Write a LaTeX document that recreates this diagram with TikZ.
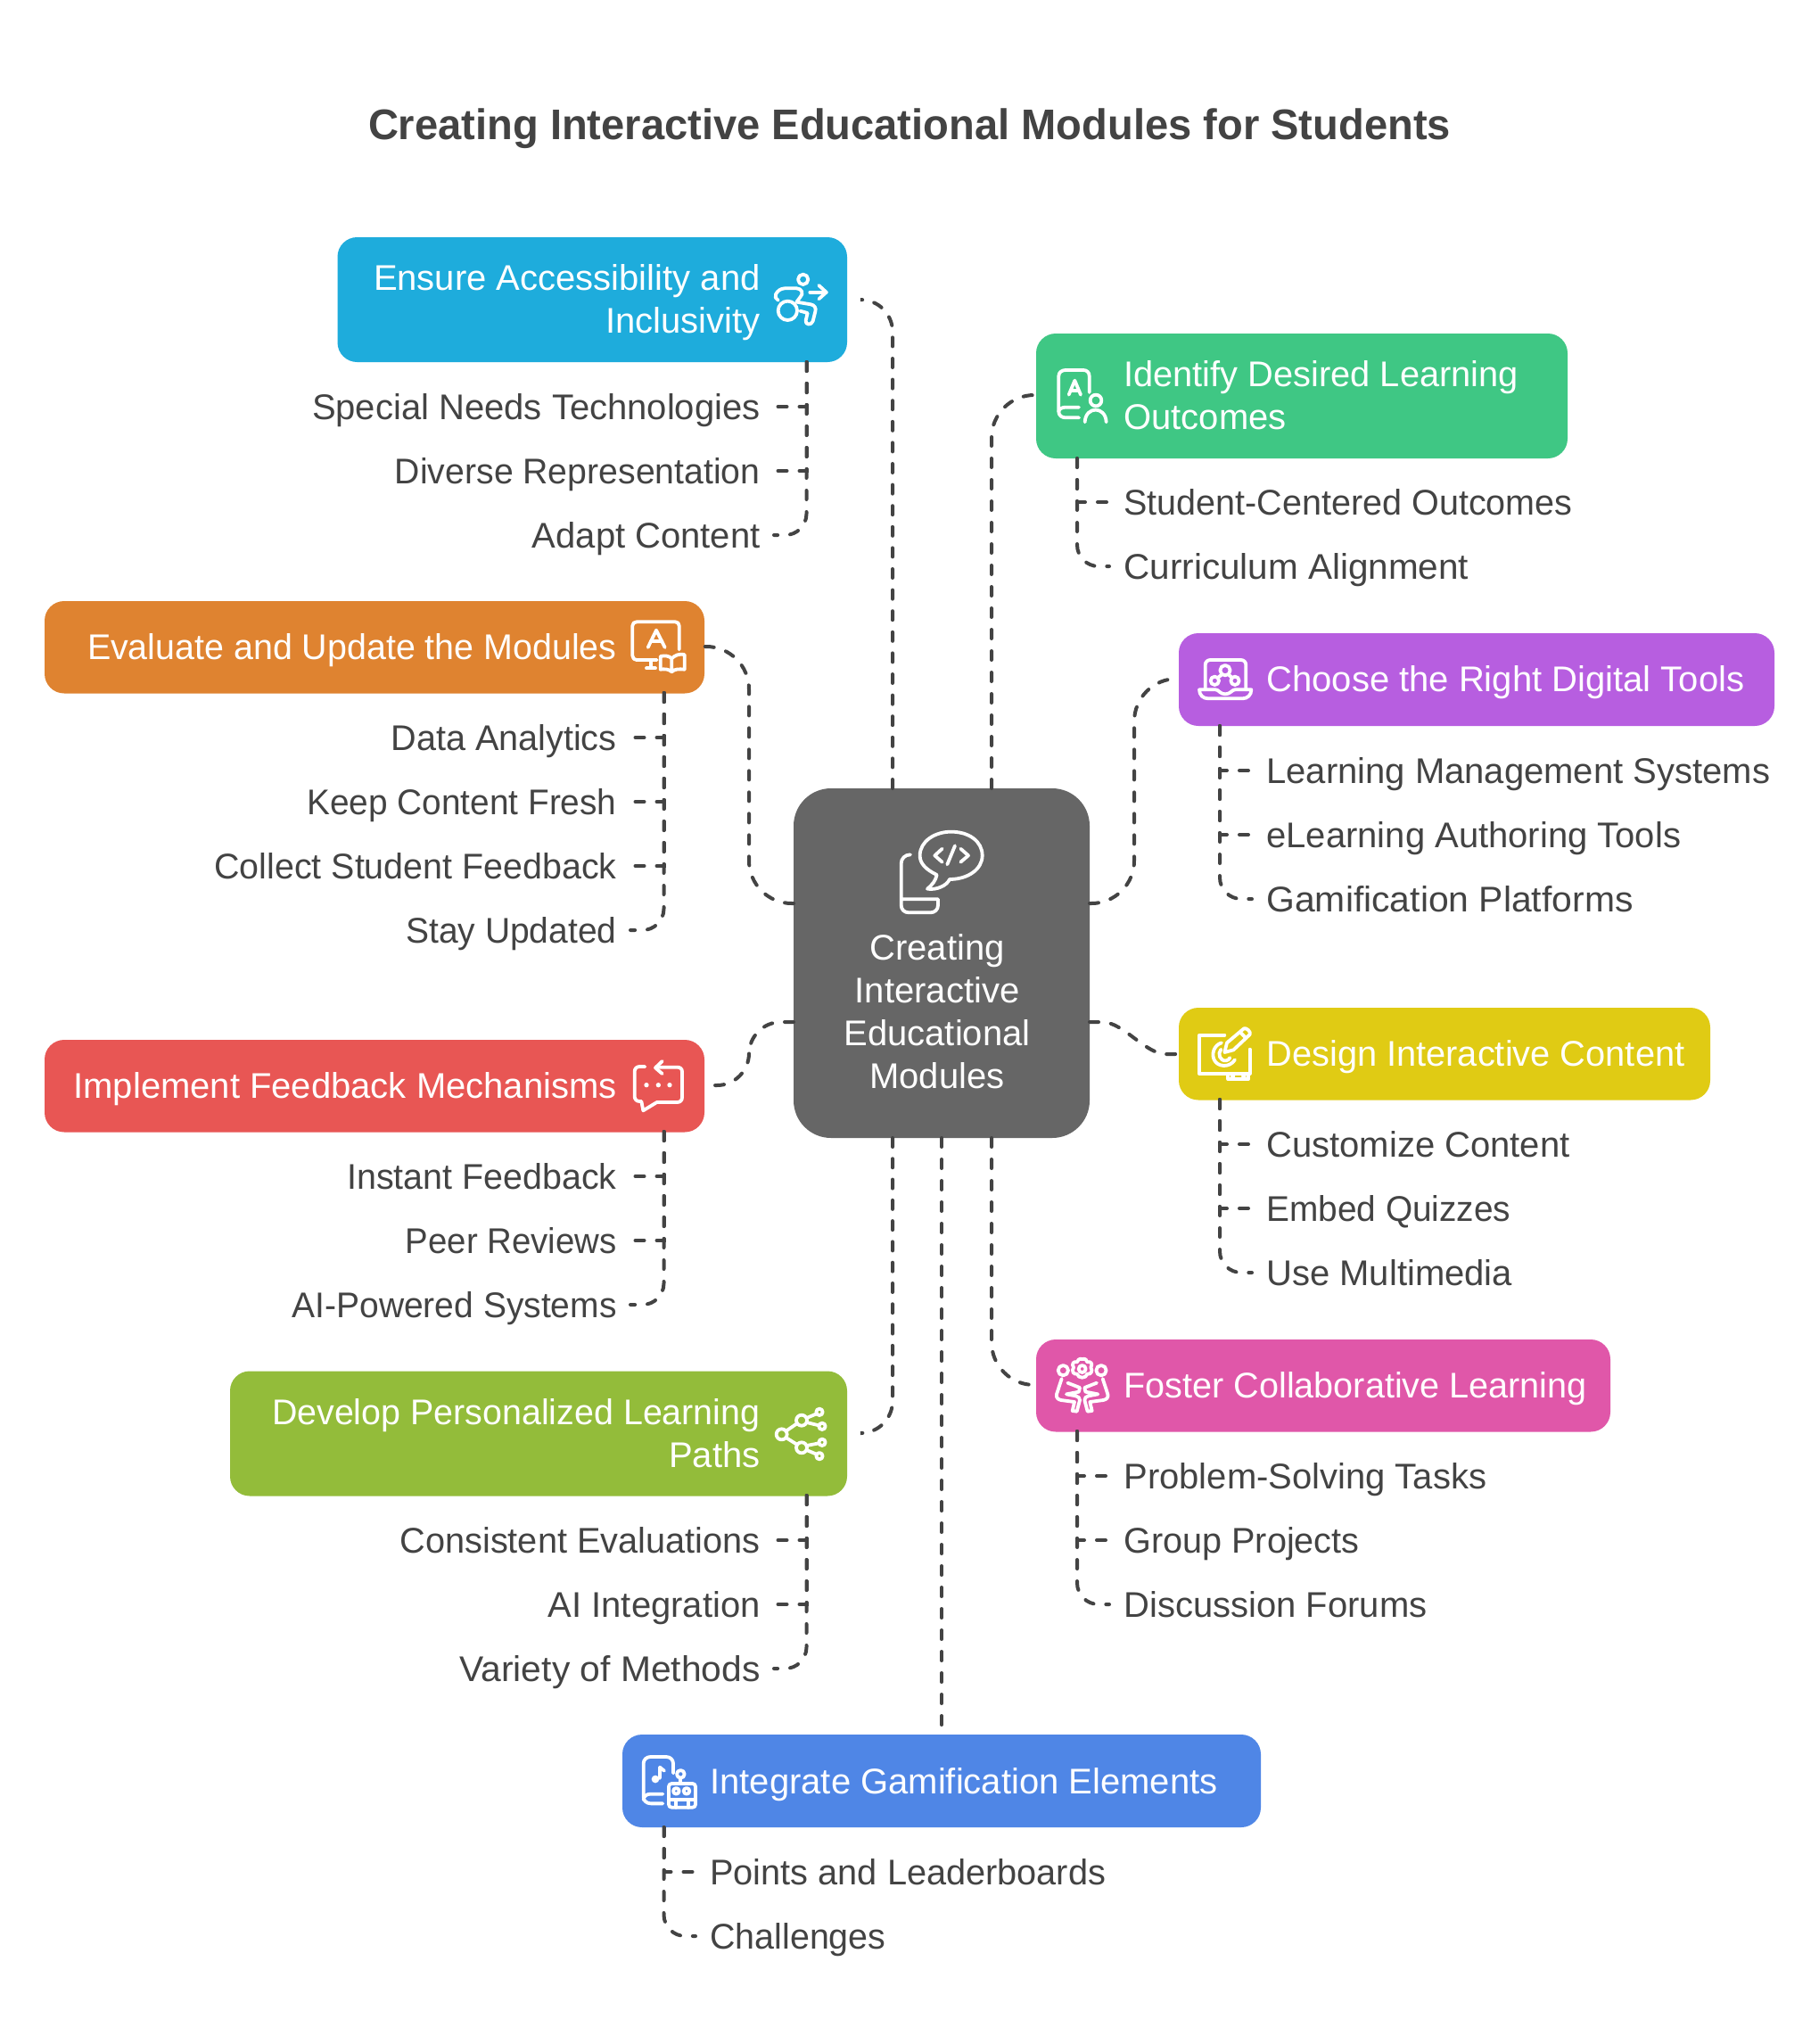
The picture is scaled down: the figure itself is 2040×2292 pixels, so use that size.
\documentclass[tikz,border=0pt]{standalone}
\usepackage{fontspec}
\setmainfont{Liberation Sans}
\newcommand{\sx}[2]{{\addfontfeature{FakeStretch=#1}#2}}
\definecolor{ink}{HTML}{434343}
\definecolor{cEns}{HTML}{1EACDC}
\definecolor{cIde}{HTML}{3FC784}
\definecolor{cCho}{HTML}{B75EE0}
\definecolor{cEva}{HTML}{DF8330}
\definecolor{cCtr}{HTML}{666666}
\definecolor{cDes}{HTML}{E0CB14}
\definecolor{cImp}{HTML}{E85654}
\definecolor{cFos}{HTML}{E057A9}
\definecolor{cDev}{HTML}{93BC3A}
\definecolor{cInt}{HTML}{4F86E6}
\tikzset{
  panel/.style={rounded corners=11pt,inner sep=0pt,draw=none},
  conn/.style={draw=ink,line width=2pt,line cap=round,dash pattern=on 5pt off 7pt},
  icn/.style={draw=white,line width=1.9pt,line cap=round,line join=round},
  icf/.style={fill=white,draw=none},
  txt/.style={font=\fontsize{20}{24}\selectfont,inner ysep=0pt,inner xsep=0pt},
  leafbase/.style={txt,text=ink,text height=14.3pt,text depth=0pt},
  leafR/.style={leafbase,inner xsep=7.5pt,anchor=east},
  leafL/.style={leafbase,inner xsep=8pt,anchor=west},
  oneR/.style={txt,text=white,text height=14.3pt,text depth=0pt,anchor=east},
  oneL/.style={txt,text=white,text height=14.3pt,text depth=0pt,anchor=west},
  twoR/.style={txt,text=white,align=right,anchor=base east},
  twoL/.style={txt,text=white,align=left,anchor=base west},
  twoC/.style={txt,text=white,align=center,anchor=base},
}
\newcommand{\panelbox}[6]{\node[panel,fill=#6,minimum width={(#4-#2)*0.5},minimum height={(#5-#3)*0.5}] (#1) at ({(#2+#4)/2},{(#3+#5)/2}) {};}
\begin{document}
\begin{tikzpicture}[x=0.5pt,y=-0.5pt]
\useasboundingbox (0,0) rectangle (2040,2292);
\fill[white] (0,0) rectangle (2040,2292);

\node[font=\fontsize{24}{28}\selectfont\bfseries,text=ink,inner sep=0pt,text height=17.2pt,text depth=0pt] (title) at (1020,139) {\addfontfeature{FakeStretch=0.981}Creating Interactive Educational Modules for Students};

% panels
\node[panel,rounded corners=21pt,fill=cCtr,minimum width=166pt,minimum height=196pt] (ctr) at (1056,1080) {};
\panelbox{ens}{378.5}{266}{950}{406}{cEns}
\panelbox{ide}{1162}{374}{1758}{514}{cIde}
\panelbox{cho}{1322}{710}{1990}{814}{cCho}
\panelbox{eva}{50}{674}{790}{777.5}{cEva}
\panelbox{des}{1322}{1130}{1918}{1233.5}{cDes}
\panelbox{imp}{50}{1166}{790}{1269.5}{cImp}
\panelbox{fos}{1162}{1502}{1806}{1605.5}{cFos}
\panelbox{dev}{258}{1537.5}{950}{1677.5}{cDev}
\panelbox{int}{698}{1945}{1414}{2049}{cInt}

% panel labels
\node[twoC] (ctrt) at (1051,1220) {Creating\\Interactive\\Educational\\Modules};
\node[twoR] (enst) at (853,373.5) {Ensure Accessibility and\\Inclusivity};
\node[twoL] (idet) at (1260,481.5) {\sx{0.995}{Identify Desired Learning}\\Outcomes};
\node[oneL] (chot) at (1420,761) {Choose the Right Digital Tools};
\node[oneR] (evat) at (692,725) {\sx{0.985}{Evaluate and Update the Modules}};
\node[oneL] (dest) at (1420,1181) {\sx{0.995}{Design Interactive Content}};
\node[oneR] (impt) at (692,1217) {Implement Feedback Mechanisms};
\node[oneL] (fost) at (1260,1553) {\sx{0.99}{Foster Collaborative Learning}};
\node[twoR] (devt) at (853,1645) {\sx{0.985}{Develop Personalized Learning}\\Paths};
\node[oneL] (intt) at (796,1997) {Integrate Gamification Elements};

% leaves
\node[leafR] (e1) at (868,456) {Special Needs Technologies};
\node[leafR] (e2) at (868,528) {\sx{0.98}{Diverse Representation}};
\node[leafR] (e3) at (868,600) {Adapt Content};
\node[leafL] (i1) at (1244,563) {\sx{0.988}{Student-Centered Outcomes}};
\node[leafL] (i2) at (1244,635) {\sx{1.012}{Curriculum Alignment}};
\node[leafL] (c1) at (1404,864) {Learning Management Systems};
\node[leafL] (c2) at (1404,936) {eLearning Authoring Tools};
\node[leafL] (c3) at (1404,1008) {\sx{1.022}{Gamification Platforms}};
\node[leafR] (v1) at (707,827) {\sx{0.99}{Data Analytics}};
\node[leafR] (v2) at (707,899) {\sx{0.97}{Keep Content Fresh}};
\node[leafR] (v3) at (707,971) {\sx{0.985}{Collect Student Feedback}};
\node[leafR] (v4) at (707,1043) {\sx{0.975}{Stay Updated}};
\node[leafL] (d1) at (1404,1283) {Customize Content};
\node[leafL] (d2) at (1404,1355) {\sx{0.97}{Embed Quizzes}};
\node[leafL] (d3) at (1404,1427) {Use Multimedia};
\node[leafR] (m1) at (707,1319) {\sx{0.985}{Instant Feedback}};
\node[leafR] (m2) at (707,1391) {\sx{0.96}{Peer Reviews}};
\node[leafR] (m3) at (707,1463) {\sx{0.975}{AI-Powered Systems}};
\node[leafL] (f1) at (1244,1655) {Problem-Solving Tasks};
\node[leafL] (f2) at (1244,1727) {\sx{0.99}{Group Projects}};
\node[leafL] (f3) at (1244,1799) {Discussion Forums};
\node[leafR] (p1) at (868,1727) {\sx{0.993}{Consistent Evaluations}};
\node[leafR] (p2) at (868,1799) {AI Integration};
\node[leafR] (p3) at (868,1871) {\sx{1.02}{Variety of Methods}};
\node[leafL] (g1) at (780,2099) {\sx{0.993}{Points and Leaderboards}};
\node[leafL] (g2) at (780,2171) {\sx{0.985}{Challenges}};

% connector anchors
\coordinate (ctrTa) at (1001,884);
\coordinate (ctrTb) at (1112,884);
\coordinate (ctrBa) at (1001,1276);
\coordinate (ctrBb) at (1056,1276);
\coordinate (ctrBc) at (1112,1276);
\coordinate (ctrLa) at (890,1013);
\coordinate (ctrLb) at (890,1146);
\coordinate (ctrRa) at (1222,1013);
\coordinate (ctrRb) at (1222,1146);
\coordinate (ctrRc) at (1236,1146);
\coordinate (ensEnd) at (966,336);
\coordinate (devEnd) at (966,1607);
\coordinate (ideIn) at (1162,443);
\coordinate (choIn) at (1322,761);
\coordinate (evaIn) at (790,725);
\coordinate (desIn) at (1322,1182);
\coordinate (desInb) at (1308,1182);
\coordinate (impIn) at (790,1217);
\coordinate (fosIn) at (1162,1553);
\coordinate (intIn) at (1056,1945);
\coordinate (ensV) at (904.5,406);
\coordinate (ideV) at (1208,514);
\coordinate (choV) at (1368,814);
\coordinate (evaV) at (744.5,777);
\coordinate (desV) at (1368,1233);
\coordinate (impV) at (744.5,1269);
\coordinate (fosV) at (1208,1605);
\coordinate (devV) at (904.5,1677);
\coordinate (intV) at (744.5,2049);
\coordinate (xL) at (840,0);
\coordinate (xR) at (1272,0);

% hub connectors
\draw[conn,rounded corners=18pt,dash pattern=on 5pt off 6.8pt] (ctrTa) |- (ensEnd);
\draw[conn,rounded corners=24pt] (ctrTb) |- (ideIn);
\draw[conn,rounded corners=24pt] (ctrLa) -- (xL |- ctrLa) -- (xL |- evaIn) -- (evaIn);
\draw[conn,rounded corners=24pt] (ctrRa) -- (xR |- ctrRa) -- (xR |- choIn) -- (choIn);
\draw[conn] (ctrRb) -- (ctrRc) .. controls +(24,0) and +(-24,0) .. (desInb) -- (desIn);
\draw[conn,rounded corners=18pt] (ctrLb) -- (xL |- ctrLb) -- (xL |- impIn) -- (impIn);
\draw[conn,rounded corners=18pt,dash pattern=on 5pt off 6.64pt] (ctrBa) |- (devEnd);
\draw[conn,rounded corners=24pt] (ctrBc) |- (fosIn);
\draw[conn] (ctrBb) -- (intIn);

% leaf connectors
\draw[conn] (ensV) |- (e1.east);
\draw[conn] (ensV) |- (e2.east);
\draw[conn,rounded corners=12pt] (ensV) |- (e3.east);
\draw[conn] (ideV) |- (i1.west);
\draw[conn,rounded corners=12pt] (ideV) |- (i2.west);
\draw[conn] (choV) |- (c1.west);
\draw[conn] (choV) |- (c2.west);
\draw[conn,rounded corners=12pt] (choV) |- (c3.west);
\draw[conn] (evaV) |- (v1.east);
\draw[conn] (evaV) |- (v2.east);
\draw[conn] (evaV) |- (v3.east);
\draw[conn,rounded corners=12pt] (evaV) |- (v4.east);
\draw[conn] (desV) |- (d1.west);
\draw[conn] (desV) |- (d2.west);
\draw[conn,rounded corners=12pt] (desV) |- (d3.west);
\draw[conn] (impV) |- (m1.east);
\draw[conn] (impV) |- (m2.east);
\draw[conn,rounded corners=12pt] (impV) |- (m3.east);
\draw[conn] (fosV) |- (f1.west);
\draw[conn] (fosV) |- (f2.west);
\draw[conn,rounded corners=12pt] (fosV) |- (f3.west);
\draw[conn] (devV) |- (p1.east);
\draw[conn] (devV) |- (p2.east);
\draw[conn,rounded corners=12pt] (devV) |- (p3.east);
\draw[conn] (intV) |- (g1.west);
\draw[conn,rounded corners=12pt] (intV) |- (g2.west);

% icon: centre
\begin{scope}[shift={(960,900)},scale=1/3]
\draw[icn] (183,175) .. controls (165,175) and (152,188) .. (152,205) -- (152,345) .. controls (152,360) and (163,370) .. (178,370) -- (250,370) .. controls (265,370) and (276,360) .. (276,345) -- (276,325) -- (152,325);
\draw[icn] (272,243) .. controls (235,225) and (215,205) .. (215,178) .. controls (215,130) and (265,98) .. (320,98) .. controls (380,98) and (425,130) .. (425,178) .. controls (425,225) and (375,258) .. (315,258) .. controls (305,280) and (270,295) .. (240,290) .. controls (258,275) and (268,262) .. (272,243) -- cycle;
\draw[icn] (290,155) -- (265,178) -- (290,200);
\draw[icn] (352,155) -- (378,178) -- (352,200);
\draw[icn] (333,145) -- (307,208);
\end{scope}

% icon: accessibility
\begin{scope}[shift={(860,296)},scale=1/3]
\draw[icn] (122,52) circle (17);
\draw[icn] (70,157) circle (32);
\draw[icn] (145,95) -- (200,95);
\draw[icn] (175,72) -- (200,95) -- (175,118);
\draw[icn] (38,122) .. controls (30,118) and (26,110) .. (30,102) .. controls (36,90) and (46,83) .. (60,82) -- (100,82) .. controls (118,82) and (125,100) .. (112,112) -- (100,128) -- (148,136) .. controls (160,138) and (167,148) .. (163,160) -- (155,192) .. controls (150,208) and (128,205) .. (131,190) -- (137,165) -- (112,158);
\end{scope}

% icon: outcomes
\begin{scope}[shift={(1100,360)},scale=1/3]
\draw[icn] (365,240) -- (365,185) .. controls (365,173) and (357,165) .. (345,165) -- (285,165) .. controls (272,165) and (262,173) .. (262,185) -- (262,305) .. controls (262,317) and (272,325) .. (285,325) -- (330,325);
\draw[icn] (330,290) -- (285,290) .. controls (272,290) and (262,297) .. (262,305);
\draw[icn] (296,248) -- (316,200) -- (336,248);
\draw[icn] (303,233) -- (329,233);
\draw[icn] (387,267) circle (19);
\draw[icn] (350,340) .. controls (352,285) and (420,285) .. (422,340);
\end{scope}

% icon: digital tools
\begin{scope}[shift={(1320,710)},scale=1/3]
\draw[icn] (95,190) -- (95,108) .. controls (95,97) and (102,90) .. (112,90) -- (215,90) .. controls (225,90) and (232,97) .. (232,108) -- (232,190);
\draw[icn] (75,190) .. controls (75,208) and (88,220) .. (105,220) -- (220,220) .. controls (237,220) and (250,208) .. (250,190) -- (195,190) .. controls (185,190) and (180,205) .. (162,205) .. controls (145,205) and (140,190) .. (130,190) -- cycle;
\draw[icn] (162,125) circle (17);
\draw[icn] (127,160) circle (14);
\draw[icn] (195,160) circle (14);
\draw[icn] (150,140) -- (137,150);
\draw[icn] (174,140) -- (186,150);
\end{scope}

% icon: evaluate
\begin{scope}[shift={(680,660)},scale=1/3]
\draw[icn] (170,240) -- (102,240) .. controls (94,240) and (88,234) .. (88,226) -- (88,125) .. controls (88,117) and (94,112) .. (102,112) -- (232,112) .. controls (240,112) and (245,117) .. (245,125) -- (245,205);
\draw[icn] (150,240) -- (150,267);
\draw[icn] (135,268) -- (165,268);
\draw[icn] (140,198) -- (168,140) -- (197,198);
\draw[icn] (150,178) -- (187,178);
\draw[icn] (220,235) .. controls (210,225) and (195,225) .. (182,228) -- (182,272) .. controls (195,270) and (210,270) .. (220,280) .. controls (230,270) and (245,270) .. (263,272) -- (263,222) .. controls (245,218) and (230,225) .. (220,235) -- (220,280);
\end{scope}

% icon: design
\begin{scope}[shift={(1320,1130)},scale=1/3]
\draw[icn] (160,92) -- (75,92) -- (75,222) -- (245,222) -- (245,140);
\draw[icn] (172,225) -- (172,240) -- (240,240) -- (240,225);
\draw[icn] (185,232) -- (190,232);
\draw[icn] (222,232) -- (227,232);
\draw[icn] (150,118) .. controls (125,125) and (115,155) .. (125,175) .. controls (135,198) and (175,205) .. (195,175);
\draw[icn] (148,140) .. controls (135,155) and (145,180) .. (165,178) .. controls (172,178) and (176,172) .. (178,168);
\draw[icn] (160,150) -- (168,118) -- (225,70) .. controls (232,66) and (250,80) .. (245,90) -- (190,142) -- cycle;
\draw[icn] (212,82) -- (232,102);
\end{scope}

% icon: feedback
\begin{scope}[shift={(680,1160)},scale=1/3]
\draw[icn] (130,108) -- (112,108) .. controls (102,108) and (95,115) .. (95,125) -- (95,208) .. controls (95,218) and (102,225) .. (112,225) -- (118,225) -- (124,256) -- (170,228) -- (238,228) .. controls (248,228) and (255,222) .. (255,212) -- (255,125) .. controls (255,115) and (248,110) .. (238,110) -- (170,110);
\draw[icn] (188,90) -- (165,112) -- (188,132);
\fill[icf] (135,170) circle (8);
\fill[icf] (175,170) circle (8);
\fill[icf] (213,170) circle (8);
\end{scope}

% icon: collaboration
\begin{scope}[shift={(1160,1490)},scale=1/3]
\draw[icn] (97,140) circle (17);
\draw[icn] (225,140) circle (17);
\draw[icn] (161,135) circle (12);
\draw[icn] (161,102) .. controls (172,98) and (178,108) .. (178,112) .. controls (190,108) and (198,118) .. (190,130) .. controls (198,142) and (190,155) .. (178,152) .. controls (175,168) and (147,168) .. (144,152) .. controls (132,155) and (124,142) .. (132,130) .. controls (124,118) and (132,108) .. (144,112) .. controls (144,108) and (150,98) .. (161,102) -- cycle;
\draw[icn] (92,168) -- (75,220) .. controls (72,232) and (80,238) .. (90,240) -- (135,246) -- (128,276) -- (143,278) -- (153,240) .. controls (153,232) and (148,228) .. (140,226) -- (108,220) -- (150,212) -- (153,198) -- (112,182);
\draw[icn] (230,168) -- (247,220) .. controls (250,232) and (242,238) .. (232,240) -- (187,246) -- (194,276) -- (179,278) -- (169,240) .. controls (169,232) and (174,228) .. (182,226) -- (214,220) -- (172,212) -- (169,198) -- (210,182);
\end{scope}

% icon: paths
\begin{scope}[shift={(850,1540)},scale=1/3]
\draw[icn] (80,205) circle (18);
\draw[icn] (147,158) circle (18);
\draw[icn] (147,250) circle (18);
\draw[icn] (207,130) circle (11);
\draw[icn] (216,178) circle (11);
\draw[icn] (216,232) circle (11);
\draw[icn] (207,278) circle (11);
\draw[icn] (96,193) -- (131,169);
\draw[icn] (96,217) -- (131,239);
\draw[icn] (164,150) -- (197,136);
\draw[icn] (164,165) -- (205,175);
\draw[icn] (164,243) -- (205,235);
\draw[icn] (164,258) -- (197,272);
\end{scope}

% icon: gamification
\begin{scope}[shift={(700,1950)},scale=1/3]
\draw[icn] (130,217) -- (90,217) .. controls (75,217) and (65,207) .. (65,195) -- (65,82) .. controls (65,70) and (75,60) .. (88,60) -- (142,60) .. controls (155,60) and (165,70) .. (165,82) -- (165,115);
\draw[icn] (130,185) -- (88,185) .. controls (75,185) and (65,193) .. (65,205);
\fill[icf] (105,135) circle (13);
\draw[icn] (120,132) -- (120,95) -- (135,107);
\draw[icn] (160,150) -- (230,150) .. controls (236,150) and (240,154) .. (240,160) -- (240,220) .. controls (240,226) and (236,230) .. (230,230) -- (160,230) .. controls (154,230) and (150,226) .. (150,220) -- (150,160) .. controls (150,154) and (154,150) .. (160,150) -- cycle;
\draw[icn] (190,118) circle (13);
\draw[icn] (190,132) -- (190,150);
\draw[icn] (175,175) circle (10);
\draw[icn] (210,175) circle (10);
\draw[icn] (150,205) -- (240,205);
\draw[icn] (175,205) -- (175,230);
\draw[icn] (215,205) -- (215,230);
\end{scope}
\end{tikzpicture}
\end{document}
